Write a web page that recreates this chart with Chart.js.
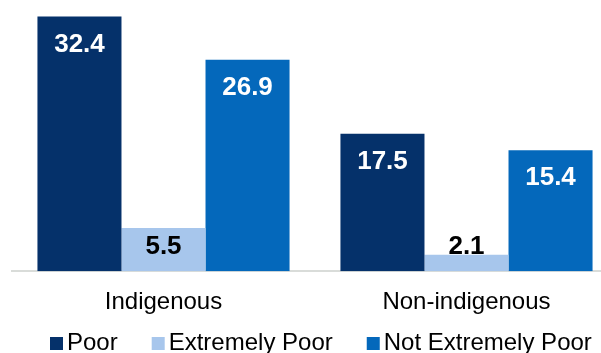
<!DOCTYPE html>
<html>
<head>
<meta charset="utf-8">
<script src="https://cdn.jsdelivr.net/npm/chart.js@4/dist/chart.umd.min.js"></script>
<style>
    html, body { margin: 0; padding: 0; background: #fff; overflow: hidden; }
    #wrap { width: 630px; height: 353px; position: relative; }
</style>
</head>
<body>
<div id="wrap"><canvas id="povertyChart"></canvas></div>
<script>
// Chart data
const groups = ['Indigenous', 'Non-indigenous'];
const seriesNames = ['Poor', 'Extremely Poor', 'Not Extremely Poor'];
const poorValues = [32.4, 17.5];
const extremelyPoorValues = [5.5, 2.1];
const notExtremelyPoorValues = [26.9, 15.4];

const seriesColors = ['#05316a', '#a7c6ec', '#0468bb'];
const labelColors = ['#ffffff', '#000000', '#ffffff'];

const FONT = 'Arial, "Liberation Sans", sans-serif';

// draws the value labels near the top of each bar
const barValueLabels = {
    id: 'barValueLabels',
    afterDatasetsDraw(chart) {
        const ctx = chart.ctx;
        ctx.save();
        ctx.font = 'bold 26px ' + FONT;
        ctx.textAlign = 'center';
        ctx.textBaseline = 'middle';
        chart.data.datasets.forEach((ds, i) => {
            const meta = chart.getDatasetMeta(i);
            meta.data.forEach((bar, j) => {
                const y = Math.min(bar.y + 28, bar.base - 24);
                ctx.fillStyle = labelColors[i];
                ctx.fillText(ds.data[j].toFixed(1), bar.x, y);
            });
        });
        ctx.restore();
    }
};

// Excel-style legend: small square right next to the text
const bottomLegend = {
    id: 'bottomLegend',
    afterDraw(chart) {
        const ctx = chart.ctx;
        const box = 13, gap = 4, spacing = 34;
        const y = 343;
        let x = 50;
        ctx.save();
        ctx.font = '24px ' + FONT;
        ctx.textBaseline = 'middle';
        ctx.textAlign = 'left';
        chart.data.datasets.forEach(ds => {
            ctx.fillStyle = ds.backgroundColor;
            ctx.fillRect(x, y - 6, box, box);
            ctx.fillStyle = '#000000';
            ctx.fillText(ds.label, x + box + gap, y);
            x += box + gap + ctx.measureText(ds.label).width + spacing;
        });
        ctx.restore();
    }
};

function getBarChartConfig() {
    return {
        type: 'bar',
        data: {
            labels: groups,
            datasets: [
                { label: seriesNames[0], data: poorValues, backgroundColor: seriesColors[0] },
                { label: seriesNames[1], data: extremelyPoorValues, backgroundColor: seriesColors[1] },
                { label: seriesNames[2], data: notExtremelyPoorValues, backgroundColor: seriesColors[2] }
            ]
        },
        options: {
            responsive: true,
            maintainAspectRatio: false,
            animation: false,
            layout: {
                padding: { top: 4, left: 12, right: 12, bottom: 19 }
            },
            datasets: {
                bar: {
                    categoryPercentage: 0.832,
                    barPercentage: 1.0,
                    borderWidth: 0
                }
            },
            scales: {
                x: {
                    grid: { display: false, drawTicks: false },
                    border: { display: true, color: '#d9dcd9', width: 2 },
                    ticks: {
                        color: '#000000',
                        padding: 17,
                        font: { family: FONT, size: 24 }
                    }
                },
                y: {
                    display: false,
                    min: 0,
                    max: 34
                }
            },
            plugins: {
                legend: { display: false },
                tooltip: { enabled: false }
            }
        },
        plugins: [barValueLabels, bottomLegend]
    };
}

const povertyChart = new Chart(
    document.getElementById('povertyChart'),
    getBarChartConfig()
);
</script>
</body>
</html>
